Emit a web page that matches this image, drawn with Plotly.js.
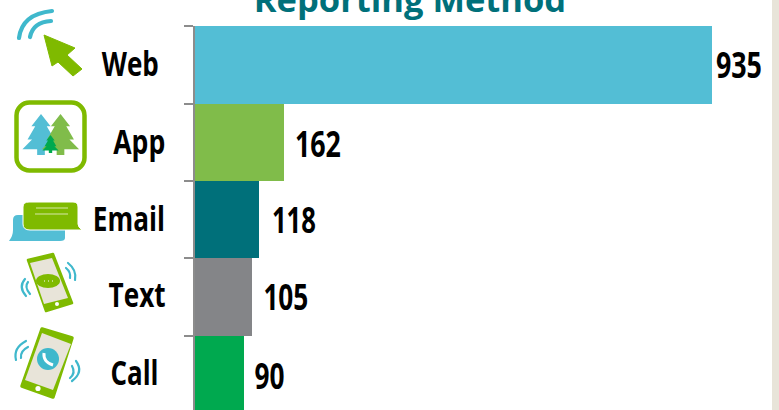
<!DOCTYPE html>
<html><head><meta charset="utf-8">
<script src="https://cdn.plot.ly/plotly-3.0.1.min.js"></script>
<style>html,body{margin:0;padding:0;background:#fff;overflow:hidden}#c{width:779px;height:410px}</style>
</head><body><div id="c"></div>
<script>
const categories = ['Web','App','Email','Text','Call'];
const values = [935,162,118,105,90];
const barColors = ['#53BED5','#80BC4A','#00707A','#848588','#00A94F'];
const labelCenter = [129.5,139,129,136.5,134];
const labelWidth = [57,52,72,57,48];
const labelShiftY = [-2,-1,-2,-3.5,-3];
const valueCenterShift = [27,34.3,34.6,34.3,26];
const valueWidth = [46,46,44,45,30];
const valueShiftY = [0,1,0,-0.5,1];
const labelFont = '"Open Sans","Noto Sans",sans-serif';

const W=779,H=410,L=195,R=7,T=26,B=0;
const pw=W-L-R;
const pxPerUnit=0.554;
const teal='#3FB8CC',lime='#7FBA00',beige='#E8E4D9';
const wave=(d)=>`<path d="${d}" fill="none" stroke="${teal}" stroke-width="2.2" stroke-linecap="round"/>`;
const tree=(cx,top,bot,w,c)=>`<polygon fill="${c}" points="${cx},${top} ${cx+w*.3},${top+(bot-top)*.3} ${cx+w*.18},${top+(bot-top)*.3} ${cx+w*.42},${top+(bot-top)*.62} ${cx+w*.28},${top+(bot-top)*.62} ${cx+w*.58},${top+(bot-top)*.86} ${cx+w*.12},${top+(bot-top)*.86} ${cx+w*.12},${bot} ${cx-w*.12},${bot} ${cx-w*.12},${top+(bot-top)*.86} ${cx-w*.58},${top+(bot-top)*.86} ${cx-w*.28},${top+(bot-top)*.62} ${cx-w*.42},${top+(bot-top)*.62} ${cx-w*.18},${top+(bot-top)*.3} ${cx-w*.3},${top+(bot-top)*.3}"/>`;
const icons=`<svg xmlns="http://www.w3.org/2000/svg" width="${W}" height="${H}" viewBox="0 0 ${W} ${H}">
<path d="M19 38Q22 14 52 11" fill="none" stroke="${teal}" stroke-width="4.2" stroke-linecap="round"/>
<path d="M30 37Q33 22 51 21" fill="none" stroke="${teal}" stroke-width="4.2" stroke-linecap="round"/>
<polygon fill="${lime}" stroke="${lime}" stroke-linejoin="round" points="44,35 75,48 67,55 82,69 73,76 58,62 52,66"/>
<rect x="16.5" y="102.5" width="68" height="68" rx="13" fill="#fff" stroke="${lime}" stroke-width="4.5"/>
${tree(41,114,155,32,'#53BED5')}${tree(60.5,114,155,32,'#80BC4A')}${tree(50.5,135,153,14,'#00A94F')}
<path d="M18 215H60Q65 215 65 220V238Q65 241 60 241H9Q13 236 13 230V220Q13 215 18 215Z" fill="#53BED5"/>
<path d="M29 202H73Q78 202 78 207V224Q78 227 82 230H30Q23 230 23 224V207Q23 202 29 202Z" fill="${lime}" stroke="#fff" stroke-width="1"/>
<path d="M36 208H68M35 214H68" stroke="#D8E8A8" stroke-width="1.2"/>
<polygon points="28,260 53,254 72,303 46,311" fill="${lime}" stroke="${lime}" stroke-width="2.5" stroke-linejoin="round"/>
<polygon points="30,263 52,258 68,298 44,304" fill="${beige}"/>
<circle cx="57" cy="304" r="2" fill="#fff"/>
<ellipse cx="48" cy="281" rx="12" ry="7" fill="${lime}"/><path d="M44 281h1M48 281h1M52 281h1" stroke="#fff"/>
${wave('M68 263Q77 270 75 280')}${wave('M66 268Q71 272 70 278')}${wave('M25 279Q18 287 26 296')}${wave('M28 282Q24 287 30 294')}
<polygon points="42,329 72,338 53,397 22,386" fill="${lime}" stroke="${lime}" stroke-width="3.5" stroke-linejoin="round"/>
<polygon points="42,333 71,344 53,390 25,380" fill="${beige}"/>
<circle cx="38" cy="388.5" r="2.6" fill="#fff"/>
<circle cx="48" cy="359" r="11" fill="${teal}"/><path d="M44 353Q43 362 53 365" fill="none" stroke="#fff" stroke-width="3"/>
${wave('M26 341Q13 348 16 360')}${wave('M28 347Q20 351 21 358')}${wave('M76 361Q84 372 72 381')}${wave('M72 366Q76 373 70 378')}
</svg>`;

const annotations=[]; const squeeze=[];
categories.forEach((c,i)=>{
  annotations.push({text:c,x:0,xref:'paper',xanchor:'center',xshift:labelCenter[i]-L,y:c,yref:'y',yanchor:'middle',yshift:-labelShiftY[i],showarrow:false,
    font:{family:labelFont,size:34,color:'#000',weight:700}});
  squeeze.push(labelWidth[i]);
  annotations.push({text:String(values[i]),x:values[i],xref:'x',xanchor:'center',xshift:valueCenterShift[i],y:c,yref:'y',yanchor:'middle',yshift:-valueShiftY[i],showarrow:false,
    font:{family:labelFont,size:36,color:'#000',weight:700}});
  squeeze.push(valueWidth[i]);
});

Plotly.newPlot('c',[{
  type:'bar',orientation:'h',y:categories,x:values,marker:{color:barColors,line:{width:0}},hoverinfo:'skip',cliponaxis:true
}],{
  width:W,height:H,margin:{l:L,r:R,t:T,b:B,pad:0},
  paper_bgcolor:'#fff',plot_bgcolor:'#fff',bargap:0,showlegend:false,
  title:{text:'Reporting Method',x:410/W,xanchor:'center',y:1,yanchor:'bottom',pad:{b:-12},font:{family:'"Open Sans",sans-serif',size:34.5,color:'#00707A',weight:700}},
  xaxis:{range:[1/pxPerUnit,(pw+1)/pxPerUnit],showgrid:false,zeroline:false,showticklabels:false,ticks:'',showline:false,fixedrange:true},
  yaxis:{type:'category',categoryorder:'array',categoryarray:categories,range:[4.455,-0.5],tickson:'boundaries',ticks:'outside',ticklen:9,tickwidth:2,tickcolor:'#8C8C8C',
    showline:true,linewidth:2,linecolor:'#8C8C8C',showgrid:false,zeroline:false,showticklabels:false,fixedrange:true},
  annotations,
  shapes:[{type:'rect',xref:'paper',yref:'paper',x0:1,x1:1+R/pw,y0:0,y1:1+T/(H-T-B),fillcolor:beige,line:{width:0},layer:'above'}],
  images:[{source:'data:image/svg+xml;charset=utf-8,'+encodeURIComponent(icons),xref:'paper',yref:'paper',x:-L/pw,y:1+T/(H-T-B),sizex:W/pw,sizey:H/(H-T-B),xanchor:'left',yanchor:'top',sizing:'stretch',layer:'above'}]
},{displayModeBar:false,staticPlot:true}).then(gd=>{
  gd.querySelectorAll('.annotation-text').forEach((t,i)=>{
    t.setAttribute('textLength',squeeze[i]);
    t.setAttribute('lengthAdjust','spacingAndGlyphs');
  });
});
</script></body></html>
